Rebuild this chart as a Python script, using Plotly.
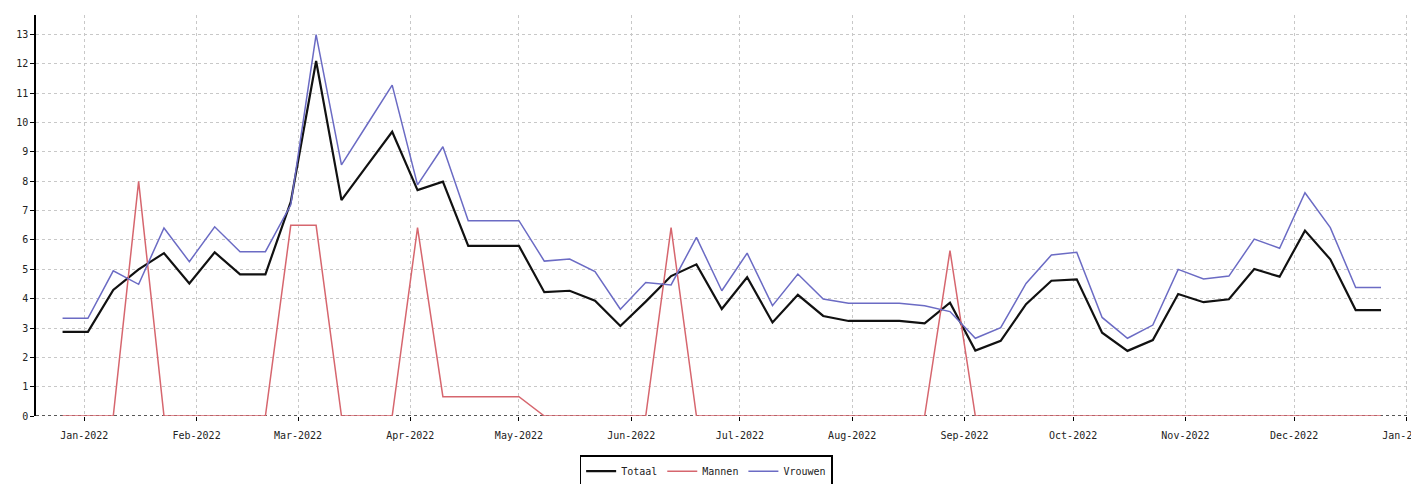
import pandas as pd
import plotly.graph_objects as go

dates = pd.date_range("2021-12-26", "2022-12-25", freq="7D")

totaal = [2.87, 2.87, 4.3, 5.0, 5.55, 4.52, 5.58, 4.83, 4.83, 7.3, 12.1,
          7.36, 8.53, 9.69, 7.7, 7.99, 5.8, 5.8, 5.8, 4.22, 4.27, 3.93, 3.07, 3.9, 4.77, 5.17,
          3.65, 4.73, 3.19, 4.13, 3.41, 3.24, 3.24, 3.24, 3.16, 3.86, 2.23, 2.56, 3.81,
          4.61, 4.66, 2.84, 2.22, 2.59, 4.16, 3.88, 3.98, 5.01, 4.75, 6.32, 5.34, 3.61, 3.61]

mannen = [0, 0, 0, 8.0, 0, 0, 0, 0, 0, 6.5, 6.5,
          0, 0, 0, 6.42, 0.66, 0.66, 0.66, 0.66, 0, 0, 0, 0, 0, 6.42, 0,
          0, 0, 0, 0, 0, 0, 0, 0, 0, 5.64, 0, 0, 0,
          0, 0, 0, 0, 0, 0, 0, 0, 0, 0, 0, 0, 0, 0]

vrouwen = [3.33, 3.33, 4.95, 4.49, 6.41, 5.26, 6.45, 5.6, 5.6, 7.2, 13.0,
           8.56, 9.92, 11.28, 7.88, 9.18, 6.66, 6.66, 6.66, 5.28, 5.35, 4.92, 3.64, 4.55, 4.47, 6.09,
           4.27, 5.55, 3.76, 4.84, 3.99, 3.84, 3.84, 3.84, 3.76, 3.56, 2.65, 3.01, 4.52,
           5.49, 5.58, 3.36, 2.65, 3.1, 5.0, 4.67, 4.77, 6.03, 5.72, 7.61, 6.42, 4.38, 4.38]

month_ticks = pd.date_range("2022-01-01", "2023-01-01", freq="MS")
month_labels = [d.strftime("%b-%Y") for d in month_ticks]

font = "DejaVu Sans Mono"

fig = go.Figure()
fig.add_trace(go.Scatter(x=dates, y=totaal, name="Totaal", mode="lines",
                         line=dict(color="#111111", width=2.2)))
fig.add_trace(go.Scatter(x=dates, y=mannen, name="Mannen", mode="lines",
                         line=dict(color="#d6666e", width=1.5)))
fig.add_trace(go.Scatter(x=dates, y=vrouwen, name="Vrouwen", mode="lines",
                         line=dict(color="#6b6bc4", width=1.5)))

fig.add_shape(type="line", xref="paper", yref="y", x0=0, x1=1, y0=0, y1=0,
              line=dict(color="#222222", width=1.5, dash="3px,3px"), layer="below")

fig.update_layout(
    width=1419, height=484,
    margin=dict(l=28, r=17, t=7, b=76, autoexpand=False),
    plot_bgcolor="white", paper_bgcolor="white",
    font=dict(family=font, size=10, color="#222222"),
    showlegend=True,
    legend=dict(orientation="h", xref="container", x=0.492, xanchor="center",
                yref="container", y=0.076, yanchor="top",
                bordercolor="black", borderwidth=1.5, font=dict(family=font, size=10),
                itemwidth=30),
)
fig.update_xaxes(
    range=["2021-12-18 16:00", "2023-01-02"],
    tickvals=month_ticks, ticktext=month_labels,
    showgrid=True, gridcolor="#c8c8c8", griddash="3px,3px", gridwidth=1,
    ticks="outside", ticklen=4, tickcolor="black", ticklabeloverflow="allow",
    ticklabelstandoff=6,
    showline=False, zeroline=False, automargin=False,
)
fig.update_yaxes(
    range=[0, 13.67], tickvals=list(range(0, 14)),
    showgrid=True, gridcolor="#c8c8c8", griddash="3px,3px", gridwidth=1,
    ticks="outside", ticklen=4, tickcolor="black",
    showline=True, linecolor="black", linewidth=1.5, zeroline=False, automargin=False,
)

fig.write_html("out.html")
